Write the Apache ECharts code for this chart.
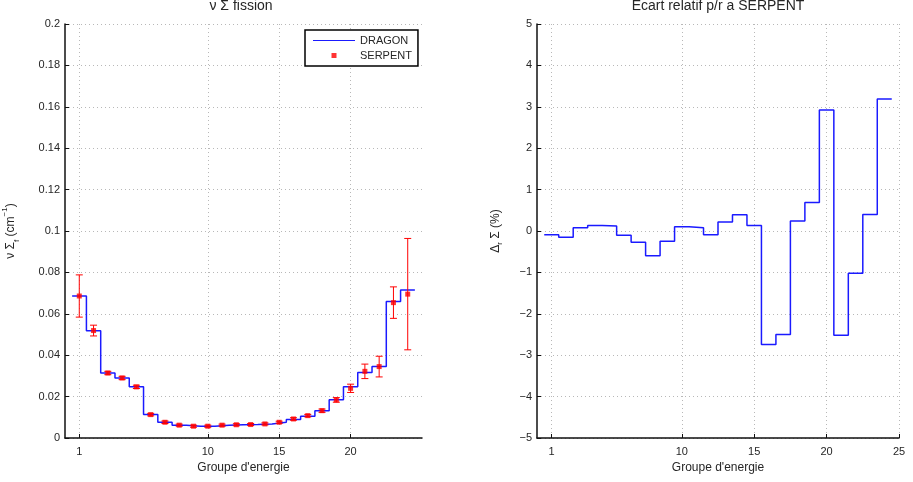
<!DOCTYPE html>
<html>
<head>
<meta charset="utf-8">
<script src="https://cdn.jsdelivr.net/npm/echarts@6/dist/echarts.min.js"></script>
<style>
  html, body { margin: 0; padding: 0; background: #fff; }
  #chart { width: 913px; height: 482px; }
</style>
</head>
<body>
<div id="chart"></div>
<script>
// energy groups
var groups = [1, 2, 3, 4, 5, 6, 7, 8, 9, 10, 11, 12, 13, 14, 15, 16, 17, 18, 19, 20, 21, 22, 23, 24];
// nu Sigma fission, DRAGON (cm-1)
var dragon = [0.0686, 0.0518, 0.0314, 0.0290, 0.0247, 0.0113, 0.0076, 0.0062, 0.0057, 0.0057, 0.0062, 0.0064,
  0.0065, 0.0068, 0.0076, 0.0089, 0.0105, 0.0132, 0.0185, 0.0247, 0.0317, 0.0346, 0.0659, 0.0715];
// SERPENT reference and its error bar half width
var serpent = [0.0686, 0.0519, 0.0314, 0.0290, 0.0247, 0.0113, 0.0076, 0.0062, 0.0057, 0.0057, 0.0062, 0.0064,
  0.0065, 0.0068, 0.0076, 0.0092, 0.0108, 0.0132, 0.0184, 0.0240, 0.0322, 0.0345, 0.0654, 0.0695];
var serpentErr = [0.0102, 0.0026, 0.0008, 0.0008, 0.0008, 0.0006, 0.0006, 0.0005, 0.0005, 0.0005, 0.0005, 0.0005,
  0.0005, 0.0005, 0.0005, 0.0006, 0.0006, 0.0008, 0.0011, 0.0020, 0.0035, 0.0050, 0.0076, 0.0269];
// relative gap to SERPENT (%)
var ecart = [-0.09, -0.15, 0.08, 0.13, 0.12, -0.10, -0.27, -0.60, -0.25, 0.10, 0.08, -0.09,
  0.22, 0.39, 0.13, -2.74, -2.50, 0.24, 0.69, 2.92, -2.52, -1.02, 0.40, 3.19];
// tick labels
var xTicksLeft = [1, 10, 15, 20];
var xTicksRight = [1, 10, 15, 20, 25];

var font = "'Liberation Sans', Arial, sans-serif";
var txt = '#262626';

// stairs: one edge per group boundary, last value repeated at the end
function stairs(vals) {
  var pts = groups.map(function (g, i) { return [g - 0.5, vals[i]]; });
  pts.push([groups[groups.length - 1] + 0.5, vals[vals.length - 1]]);
  return pts;
}

function xAxisOpt(idx, ticks) {
  return {
    gridIndex: idx,
    type: 'value',
    min: 0,
    max: 25,
    name: "Groupe d'energie",
    nameLocation: 'middle',
    nameGap: 22,
    nameTextStyle: { fontFamily: font, fontSize: 12, color: txt },
    axisLine: { onZero: false, lineStyle: { color: '#111', width: 1.5 } },
    axisTick: { inside: true, length: 4, customValues: ticks, lineStyle: { color: '#111' } },
    axisLabel: { customValues: ticks, fontFamily: font, fontSize: 11, color: txt, margin: 8 },
    splitLine: { show: true, lineStyle: { type: [1, 3], color: '#b8b8b8' } }
  };
}

var errSeries = function (xi, yi) {
  return {
    type: 'custom',
    name: 'err',
    xAxisIndex: xi,
    yAxisIndex: yi,
    encode: { x: 0, y: [1, 2] },
    data: groups.map(function (g, i) { return [g, serpent[i] - serpentErr[i], serpent[i] + serpentErr[i]]; }),
    renderItem: function (params, api) {
      var x = api.value(0);
      var lo = api.coord([x, api.value(1)]);
      var hi = api.coord([x, api.value(2)]);
      var w = 3.5;
      var st = { stroke: '#ff0000', lineWidth: 1 };
      return {
        type: 'group',
        children: [
          { type: 'line', shape: { x1: lo[0], y1: lo[1], x2: hi[0], y2: hi[1] }, style: st },
          { type: 'line', shape: { x1: lo[0] - w, y1: lo[1], x2: lo[0] + w, y2: lo[1] }, style: st },
          { type: 'line', shape: { x1: hi[0] - w, y1: hi[1], x2: hi[0] + w, y2: hi[1] }, style: st }
        ]
      };
    },
    z: 3
  };
};

var chart = echarts.init(document.getElementById('chart'), null, { renderer: 'canvas' });
var option = {
  backgroundColor: '#fff',
  animation: false,
  title: [
    { text: 'ν Σ fission', left: 241, top: -1, textAlign: 'center', padding: 0,
      textStyle: { fontFamily: font, fontSize: 14, fontWeight: 'normal', color: txt } },
    { text: 'Ecart relatif p/r a SERPENT', left: 718, top: -1, textAlign: 'center', padding: 0,
      textStyle: { fontFamily: font, fontSize: 14, fontWeight: 'normal', color: txt } }
  ],
  legend: {
    data: [
      { name: 'DRAGON', icon: 'path://M0,4.4L42,4.4L42,5.6L0,5.6Z', itemStyle: { color: '#1a1aff' } },
      { name: 'SERPENT', icon: 'path://M0,0M42,10M18.5,2.5L23.5,2.5L23.5,7.5L18.5,7.5Z' }
    ],
    orient: 'vertical',
    left: 305,
    top: 30,
    itemWidth: 42,
    itemHeight: 10,
    itemGap: 4,
    padding: [5, 6, 5, 8],
    borderColor: '#000',
    borderWidth: 1.5,
    backgroundColor: '#fff',
    textStyle: { fontFamily: font, fontSize: 11, color: txt }
  },
  grid: [
    { left: 61, top: 24, width: 361, bottom: 44 },
    { left: 537, top: 24, width: 362, bottom: 44 }
  ],
  xAxis: [xAxisOpt(0, xTicksLeft), xAxisOpt(1, xTicksRight)],
  yAxis: [
    {
      gridIndex: 0,
      type: 'value',
      min: 0,
      max: 0.2,
      interval: 0.02,
      name: '{a|ν Σ}{s|f}{a| (cm}{p|−1}{a|)}',
      nameLocation: 'middle',
      nameGap: 44,
      nameTextStyle: {
        rich: {
          a: { fontFamily: font, fontSize: 12, color: txt, lineHeight: 16 },
          s: { fontFamily: font, fontSize: 8, color: txt, verticalAlign: 'bottom', lineHeight: 10 },
          p: { fontFamily: font, fontSize: 8, color: txt, verticalAlign: 'top', lineHeight: 20 }
        }
      },
      axisLine: { show: true, lineStyle: { color: '#111', width: 1.5 } },
      axisTick: { show: true, inside: true, length: 4, lineStyle: { color: '#111' } },
      axisLabel: { fontFamily: font, fontSize: 11, color: txt, margin: 5 },
      splitLine: { show: true, lineStyle: { type: [1, 3], color: '#b8b8b8' } }
    },
    {
      gridIndex: 1,
      type: 'value',
      min: -5,
      max: 5,
      interval: 1,
      name: '{a|Δ}{s|r}{a| Σ (%)}',
      nameLocation: 'middle',
      nameGap: 33,
      nameTextStyle: {
        rich: {
          a: { fontFamily: font, fontSize: 12, color: txt, lineHeight: 16 },
          s: { fontFamily: font, fontSize: 8, color: txt, verticalAlign: 'bottom', lineHeight: 10 }
        }
      },
      axisLine: { show: true, onZero: false, lineStyle: { color: '#111', width: 1.5 } },
      axisTick: { show: true, inside: true, length: 4, lineStyle: { color: '#111' } },
      axisLabel: {
        fontFamily: font, fontSize: 11, color: txt, margin: 5,
        formatter: function (v) { return v < 0 ? '\u2212' + (-v) : String(v); }
      },
      splitLine: { show: true, lineStyle: { type: [1, 3], color: '#b8b8b8' } }
    }
  ],
  series: [
    {
      name: 'DRAGON',
      type: 'line',
      xAxisIndex: 0,
      yAxisIndex: 0,
      step: 'end',
      symbol: 'none',
      data: stairs(dragon),
      lineStyle: { color: '#1a1aff', width: 1.5 },
      itemStyle: { color: '#1a1aff' },
      z: 2
    },
    errSeries(0, 0),
    {
      name: 'SERPENT',
      type: 'scatter',
      xAxisIndex: 0,
      yAxisIndex: 0,
      symbol: 'rect',
      symbolSize: 5,
      data: groups.map(function (g, i) { return [g, serpent[i]]; }),
      itemStyle: { color: '#ff0000' },
      z: 4
    },
    {
      name: 'ecart',
      type: 'line',
      xAxisIndex: 1,
      yAxisIndex: 1,
      step: 'end',
      symbol: 'none',
      data: stairs(ecart),
      lineStyle: { color: '#1a1aff', width: 1.5 },
      z: 2
    }
  ]
};
chart.setOption(option);
</script>
</body>
</html>
